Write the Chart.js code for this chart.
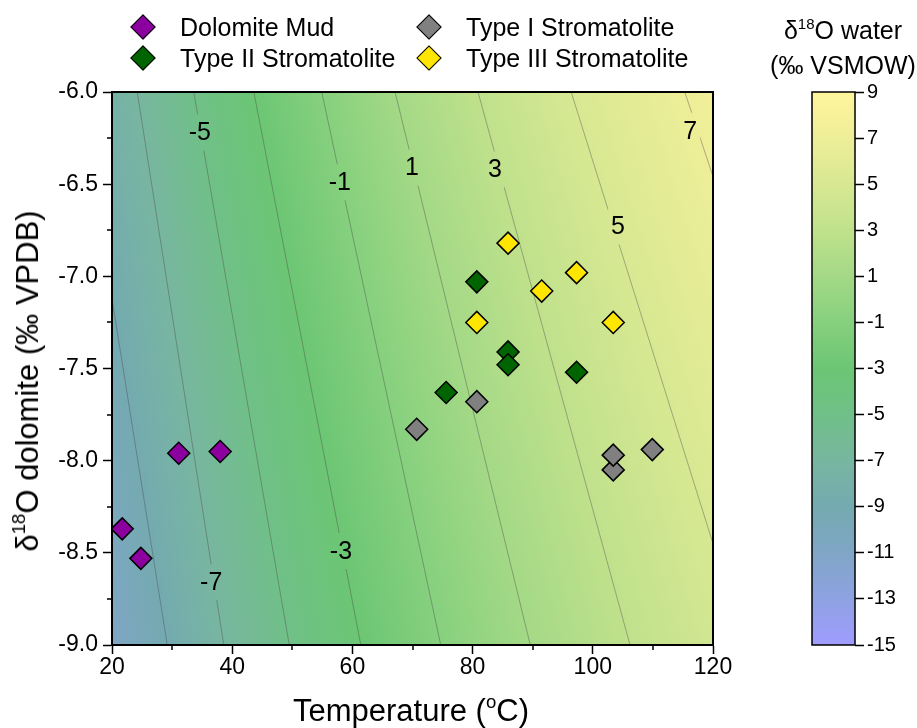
<!DOCTYPE html>
<html>
<head>
<meta charset="utf-8">
<script src="https://cdn.jsdelivr.net/npm/chart.js@4"></script>
<style>
  body { margin: 0; background: #fff; }
  #wrap { position: relative; width: 917px; height: 728px; background: #fff; font-family: 'Liberation Sans', Arial, sans-serif; color: #000; overflow: hidden; }
  canvas { position: absolute; top: 0; }
  .lg { position: absolute; font-size: 25px; line-height: 30px; white-space: nowrap; }
  .mk { position: absolute; width: 16px; height: 16px; border: 1.5px solid #000; transform: rotate(45deg); }
  .ttl { position: absolute; white-space: nowrap; text-align: center; }
  sup { font-size: 60%; vertical-align: 0.7em; line-height: 0; }
</style>
</head>
<body>
<div id="wrap">
  <canvas id="main" width="917" height="728" style="left:0"></canvas>
  <canvas id="bar" width="117" height="728" style="left:800px"></canvas>
  <div id="legend"></div>
  <div class="ttl" style="font-size:31px; left:28px; top:381px; transform: translate(-50%,-50%) rotate(-90deg);">δ<sup>18</sup>O dolomite (‰ VPDB)</div>
  <div class="ttl" style="font-size:31px; left:411px; top:711px; transform: translate(-50%,-50%);">Temperature (<sup>o</sup>C)</div>
  <div class="ttl" style="font-size:25px; line-height:35px; left:843px; top:48px; transform: translate(-50%,-50%);">δ<sup>18</sup>O water<br>(‰ VSMOW)</div>
</div>
<script>
// Samples: temperature (°C) and δ18O dolomite (‰ VPDB)
const seriesNames = ['Dolomite Mud', 'Type I Stromatolite', 'Type II Stromatolite', 'Type III Stromatolite'];
const seriesColors = ['#8c00a0', '#808080', '#006400', '#ffe600'];

const mudTemp = [21.7, 24.8, 31.1, 38.0];
const mudD18O = [-8.37, -8.53, -7.96, -7.95];

const type1Temp = [70.7, 80.7, 103.4, 103.4, 109.9];
const type1D18O = [-7.83, -7.68, -8.05, -7.97, -7.94];

const type2Temp = [75.6, 80.7, 85.9, 85.9, 97.3];
const type2D18O = [-7.63, -7.03, -7.41, -7.48, -7.52];

const type3Temp = [80.7, 85.9, 91.5, 97.3, 103.4];
const type3D18O = [-7.25, -6.82, -7.08, -6.98, -7.25];

// δ18O water contours: temperature where each level crosses the top (-6) and bottom (-9) of the plot
const contourLevels = [-11, -9, -7, -5, -3, -1, 1, 3, 5, 7, 9];
const contourTempTop = [5.0, 14.5, 24.2, 33.6, 43.6, 54.9, 67.1, 80.9, 96.4, 115.3, 136.0];
const contourTempBottom = [19.5, 29.2, 38.6, 49.5, 61.4, 74.7, 89.6, 106.2, 125.3, 146.1, 170.0];

// contour labels
const labelText = ['-7', '-5', '-3', '-1', '1', '3', '5', '7'];
const labelTemp = [36.5, 34.6, 58.1, 57.9, 69.9, 83.7, 104.2, 116.2];
const labelD18O = [-8.66, -6.22, -8.49, -6.49, -6.41, -6.42, -6.73, -6.21];

// colour scale
const scaleValues = [-15, -13, -11, -9, -7, -5, -3, -1, 1, 3, 5, 7, 9];
const scaleColors = ['#a09cff', '#8ea2e2', '#80a6c6', '#74aab0', '#78b6a0', '#70c088', '#6cc674', '#86d07e', '#a4d986', '#c0e18c', '#d8e892', '#eeee98', '#fff59c'];

const xMin = 20, xMax = 120, yMin = -9, yMax = -6;
const FONT = "'Liberation Sans', Arial, sans-serif";

function colorFor(v) {
    return scaleColors[scaleValues.indexOf(v)];
}

function toPoints(xs, ys) {
    return xs.map((x, i) => ({ x: x, y: ys[i] }));
}

// Fill the plot with the δ18O water field, following the contour lines
function paintField(chart) {
    const { ctx, chartArea: a, scales: { x, y } } = chart;
    const yTop = y.getPixelForValue(yMax);
    const yBot = y.getPixelForValue(yMin);
    ctx.save();
    ctx.beginPath();
    ctx.rect(a.left, a.top, a.right - a.left, a.bottom - a.top);
    ctx.clip();
    for (let py = a.top; py < a.bottom; py += 2) {
        const f = (py + 1 - yTop) / (yBot - yTop);
        const xs = contourLevels.map((lv, i) => {
            const x0 = x.getPixelForValue(contourTempTop[i]);
            const x1 = x.getPixelForValue(contourTempBottom[i]);
            return x0 + (x1 - x0) * f;
        });
        const first = xs[0], span = xs[xs.length - 1] - first;
        const g = ctx.createLinearGradient(first, 0, first + span, 0);
        contourLevels.forEach((lv, i) => g.addColorStop((xs[i] - first) / span, colorFor(lv)));
        ctx.fillStyle = g;
        ctx.fillRect(a.left, py, a.right - a.left, 2);
    }
    ctx.restore();
}

const firstContour = seriesNames.length;

const fieldPlugin = {
    id: 'field',
    beforeDatasetsDraw(chart) {
        paintField(chart);
    },
    afterDatasetDraw(chart, args) {
        // once the contour lines are drawn, cut gaps for the labels and write them
        if (args.index !== firstContour) return;
        const { ctx, scales: { x, y } } = chart;
        ctx.save();
        ctx.font = '25px ' + FONT;
        ctx.textAlign = 'center';
        ctx.textBaseline = 'middle';
        labelText.forEach((t, i) => {
            const px = x.getPixelForValue(labelTemp[i]);
            const py = y.getPixelForValue(labelD18O[i]);
            const w = ctx.measureText(t).width + 6;
            ctx.save();
            ctx.beginPath();
            ctx.rect(px - w / 2, py - 18, w, 36);
            ctx.clip();
            paintField(chart);
            ctx.restore();
            ctx.fillStyle = '#000';
            ctx.fillText(t, px, py + 1);
        });
        ctx.restore();
    },
    afterDraw(chart) {
        const { ctx, chartArea: a, scales: { x, y } } = chart;
        ctx.save();
        ctx.strokeStyle = '#000';
        ctx.lineWidth = 2;
        ctx.strokeRect(a.left, a.top, a.right - a.left, a.bottom - a.top);
        // minor ticks
        ctx.lineWidth = 1.5;
        ctx.beginPath();
        for (let v = 30; v < xMax; v += 20) {
            const px = Math.round(x.getPixelForValue(v));
            ctx.moveTo(px, a.bottom);
            ctx.lineTo(px, a.bottom + 5);
        }
        for (let v = -6.25; v > yMin; v -= 0.5) {
            const py = Math.round(y.getPixelForValue(v));
            ctx.moveTo(a.left, py);
            ctx.lineTo(a.left - 5, py);
        }
        ctx.stroke();
        ctx.restore();
    }
};

const sampleSets = [
    toPoints(mudTemp, mudD18O),
    toPoints(type1Temp, type1D18O),
    toPoints(type2Temp, type2D18O),
    toPoints(type3Temp, type3D18O)
];

const datasets = sampleSets.map((pts, i) => ({
    label: seriesNames[i],
    data: pts,
    pointStyle: 'rectRot',
    pointRadius: 11,
    pointBackgroundColor: seriesColors[i],
    pointBorderColor: '#000',
    pointBorderWidth: 1.5,
    showLine: false,
    order: 0
}));

contourLevels.forEach((lv, i) => {
    datasets.push({
        label: 'contour ' + lv,
        type: 'line',
        data: [{ x: contourTempTop[i], y: yMax }, { x: contourTempBottom[i], y: yMin }],
        borderColor: 'rgba(70,70,70,0.5)',
        borderWidth: 0.8,
        pointRadius: 0,
        fill: false,
        order: 10
    });
});

new Chart(document.getElementById('main'), {
    type: 'scatter',
    data: { datasets: datasets },
    options: {
        responsive: false,
        animation: false,
        events: [],
        layout: { padding: { left: 0, top: 92, right: 204, bottom: 0 } },
        plugins: { legend: { display: false }, tooltip: { enabled: false } },
        scales: {
            x: {
                type: 'linear',
                min: xMin,
                max: xMax,
                afterFit: s => { s.height = 83; },
                ticks: { stepSize: 20, color: '#000', padding: 0, font: { family: FONT, size: 23 } },
                grid: { drawOnChartArea: false, drawTicks: true, tickLength: 9, color: '#000', tickWidth: 1.5 },
                border: { display: true, color: '#000', width: 2 }
            },
            y: {
                type: 'linear',
                min: yMin,
                max: yMax,
                afterFit: s => { s.width = 112; },
                ticks: { stepSize: 0.5, color: '#000', padding: 5, font: { family: FONT, size: 23 }, callback: v => v.toFixed(1) },
                grid: { drawOnChartArea: false, drawTicks: true, tickLength: 9, color: '#000', tickWidth: 1.5 },
                border: { display: true, color: '#000', width: 2 }
            }
        }
    },
    plugins: [fieldPlugin]
});

// Colour bar
const barPlugin = {
    id: 'colorbar',
    beforeDatasetsDraw(chart) {
        const { ctx, chartArea: a, scales: { y } } = chart;
        const g = ctx.createLinearGradient(0, y.getPixelForValue(scaleValues[0]), 0, y.getPixelForValue(scaleValues[scaleValues.length - 1]));
        const lo = scaleValues[0], hi = scaleValues[scaleValues.length - 1];
        scaleValues.forEach((v, i) => g.addColorStop((v - lo) / (hi - lo), scaleColors[i]));
        ctx.save();
        ctx.fillStyle = g;
        ctx.fillRect(a.left, a.top, a.right - a.left, a.bottom - a.top);
        ctx.strokeStyle = '#000';
        ctx.lineWidth = 1.5;
        ctx.strokeRect(a.left, a.top, a.right - a.left, a.bottom - a.top);
        ctx.restore();
    }
};

new Chart(document.getElementById('bar'), {
    type: 'scatter',
    data: { datasets: [] },
    options: {
        responsive: false,
        animation: false,
        events: [],
        layout: { padding: { left: 12, top: 92, right: 0, bottom: 83 } },
        plugins: { legend: { display: false }, tooltip: { enabled: false } },
        scales: {
            x: { display: false, min: 0, max: 1 },
            y: {
                position: 'right',
                min: scaleValues[0],
                max: scaleValues[scaleValues.length - 1],
                afterFit: s => { s.width = 62; },
                ticks: { stepSize: 2, color: '#000', padding: 3, font: { family: FONT, size: 20 } },
                grid: { drawOnChartArea: false, drawTicks: true, tickLength: 9, color: '#000', tickWidth: 1.5 },
                border: { display: false }
            }
        }
    },
    plugins: [barPlugin]
});

// Legend (two columns)
const legendX = [143, 429];
const legendY = [27, 58];
const legendOrder = [0, 1, 2, 3];
const legend = document.getElementById('legend');
legend.innerHTML = legendOrder.map((s, k) => {
    const cx = legendX[k % 2], cy = legendY[Math.floor(k / 2)];
    return `<div class="mk" style="left:${cx - 9.5}px; top:${cy - 9.5}px; background:${seriesColors[s]}"></div>
            <div class="lg" style="left:${cx + 37}px; top:${cy - 15}px">${seriesNames[s]}</div>`;
}).join('');
</script>
</body>
</html>
